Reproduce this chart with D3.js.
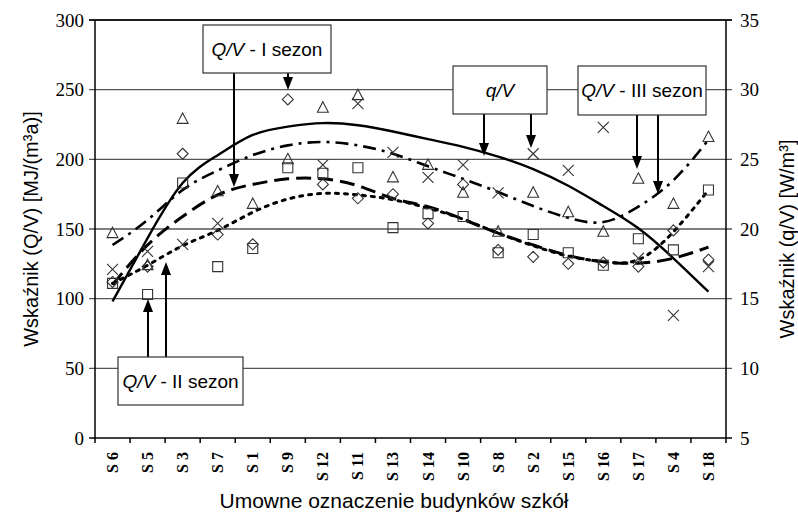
<!DOCTYPE html>
<html>
<head>
<meta charset="utf-8">
<script src="https://cdn.jsdelivr.net/npm/d3@7"></script>
<style>
  body { margin: 0; background: #fff; }
  svg { display: block; }
</style>
</head>
<body>
<div id="wrapper"></div>
<script>
// school buildings (x categories)
const categories = ["S 6", "S 5", "S 3", "S 7", "S 1", "S 9", "S 12", "S 11", "S 13",
  "S 14", "S 10", "S 8", "S 2", "S 15", "S 16", "S 17", "S 4", "S 18"]
// Q/V [MJ/(m3a)] per season, left axis
const seasonI = [112, 123, 204, 146, 139, 243, 182, 172, 175, 154, 182, 135, 130, 125, 126, 123, 149, 128]
const seasonII = [111, 103, 183, 123, 136, 194, 190, 194, 151, 161, 159, 133, 146, 133, 124, 143, 135, 178]
const seasonIII = [147, 124, 229, 177, 168, 200, 237, 246, 187, 196, 176, 148, 176, 162, 148, 186, 168, 216]
// q/V [W/m3], right axis
const qV = [17.1, 18.4, 18.9, 20.4, null, null, 24.6, 29.0, 25.5, 23.7, 24.6, 22.6, 25.4, 24.2, 27.3, 17.9, 13.8, 17.3]
// trend lines
const trendI = [110, 138.5, 159, 174.5, 182, 186, 186, 181, 172, 166, 157, 147, 138.5, 131, 126.5, 125.5, 129, 137]
const trendII = [111, 124, 138, 149, 162, 171.5, 175.5, 174.5, 171, 165, 157, 147, 138, 130.5, 126.5, 128, 148, 178]
const trendIII = [138.5, 156.5, 178, 192, 203, 210, 212.5, 210, 204, 195, 186, 176.5, 166.5, 158, 155, 166, 185, 214]
const trendQ = [14.8, 19.35, 23.3, 25.3, 26.75, 27.35, 27.6, 27.45, 27.0, 26.45, 25.9, 25.2, 24.3, 23.1, 21.65, 20.05, 17.9, 15.5]
const leftTicks = [0, 50, 100, 150, 200, 250, 300]
const rightTicks = [5, 10, 15, 20, 25, 30, 35]

const width = 798
let dimensions = {
  width: width,
  height: 515,
  margin: { top: 20, right: 72, bottom: 77, left: 95 },
}
dimensions.boundedWidth = dimensions.width - dimensions.margin.left - dimensions.margin.right
dimensions.boundedHeight = dimensions.height - dimensions.margin.top - dimensions.margin.bottom

const wrapper = d3.select("#wrapper").append("svg")
  .attr("width", dimensions.width).attr("height", dimensions.height)
const bounds = wrapper.append("g")
  .attr("transform", `translate(${dimensions.margin.left},${dimensions.margin.top})`)

const xScaler = d3.scaleBand().domain(categories).range([0, dimensions.boundedWidth])
const yLeft = d3.scaleLinear().domain([0, 300]).range([dimensions.boundedHeight, 0])
const yRight = d3.scaleLinear().domain([5, 35]).range([dimensions.boundedHeight, 0])
const cx = (d, i) => xScaler(categories[i]) + xScaler.bandwidth() / 2

// gridlines (also make the ticks on both sides)
bounds.append("g").selectAll("line").data(leftTicks.slice(1)).enter().append("line")
  .attr("x1", -6).attr("x2", dimensions.boundedWidth + 6)
  .attr("y1", d => yLeft(d)).attr("y2", d => yLeft(d))
  .attr("stroke", "#555").attr("stroke-width", 1.4)

// trend lines
const lineLeft = d3.line().x(cx).y(d => yLeft(d)).curve(d3.curveNatural)
const lineRight = d3.line().x(cx).y(d => yRight(d)).curve(d3.curveNatural)
const trends = [
  { values: trendQ, gen: lineRight, dash: null, w: 2.4 },
  { values: trendIII, gen: lineLeft, dash: "13,6,3,6", w: 2.6 },
  { values: trendI, gen: lineLeft, dash: "15,7", w: 3 },
  { values: trendII, gen: lineLeft, dash: "3,6", w: 3 },
]
bounds.append("g").selectAll("path").data(trends).enter().append("path")
  .attr("d", d => d.gen(d.values))
  .attr("fill", "none").attr("stroke", "#000")
  .attr("stroke-width", d => d.w)
  .attr("stroke-dasharray", d => d.dash)
  .attr("stroke-linecap", d => d.dash === "3,6" ? "round" : "butt")

// marker shapes
const diamond = { draw(ctx, size) { const r = Math.sqrt(size); ctx.moveTo(0, -r); ctx.lineTo(r, 0); ctx.lineTo(0, r); ctx.lineTo(-r, 0); ctx.closePath() } }
const square = { draw(ctx, size) { const r = Math.sqrt(size); ctx.rect(-r, -r, 2 * r, 2 * r) } }
const triangle = { draw(ctx, size) { const r = Math.sqrt(size); ctx.moveTo(0, -r * 1.15); ctx.lineTo(r * 1.05, r * 0.85); ctx.lineTo(-r * 1.05, r * 0.85); ctx.closePath() } }
const cross = { draw(ctx, size) { const r = Math.sqrt(size); ctx.moveTo(-r, -r); ctx.lineTo(r, r); ctx.moveTo(r, -r); ctx.lineTo(-r, r) } }

const markerSets = [
  { values: seasonI, y: yLeft, type: diamond, r: 5.5 },
  { values: seasonII, y: yLeft, type: square, r: 5 },
  { values: seasonIII, y: yLeft, type: triangle, r: 5.2 },
  { values: qV, y: yRight, type: cross, r: 5.5 },
]
markerSets.forEach(set => {
  bounds.append("g").selectAll("path")
    .data(set.values.map((v, i) => ({ v, i })).filter(d => d.v != null))
    .enter().append("path")
    .attr("transform", d => `translate(${cx(null, d.i)},${set.y(d.v)})`)
    .attr("d", d3.symbol().type(set.type).size(set.r * set.r))
    .attr("fill", "none").attr("stroke", "#333").attr("stroke-width", 1.1)
})

// frame and axes
const axisG = bounds.append("g").attr("stroke", "#000").attr("stroke-width", 1.5)
axisG.append("line").attr("x1", -6).attr("x2", dimensions.boundedWidth + 6).attr("y1", 0).attr("y2", 0)
axisG.append("line").attr("x1", 0).attr("x2", 0).attr("y1", 0).attr("y2", dimensions.boundedHeight)
axisG.append("line").attr("x1", dimensions.boundedWidth).attr("x2", dimensions.boundedWidth).attr("y1", 0).attr("y2", dimensions.boundedHeight)
axisG.append("line").attr("x1", -6).attr("x2", dimensions.boundedWidth + 6)
  .attr("y1", dimensions.boundedHeight).attr("y2", dimensions.boundedHeight)
axisG.selectAll(".xt").data(d3.range(categories.length + 1)).enter().append("line")
  .attr("x1", i => i * xScaler.step()).attr("x2", i => i * xScaler.step())
  .attr("y1", dimensions.boundedHeight).attr("y2", dimensions.boundedHeight + 5)

const serif = "'Liberation Serif', 'Times New Roman', serif"
const sans = "'Liberation Sans', Arial, sans-serif"
bounds.append("g").selectAll("text").data(leftTicks).enter().append("text")
  .attr("x", -11).attr("y", d => yLeft(d)).attr("dy", "0.35em")
  .attr("text-anchor", "end").attr("font-family", serif).attr("font-size", 19)
  .text(d => d)
bounds.append("g").selectAll("text").data(rightTicks).enter().append("text")
  .attr("x", dimensions.boundedWidth + 14).attr("y", d => yRight(d)).attr("dy", "0.35em")
  .attr("font-family", serif).attr("font-size", 19)
  .text(d => d)
bounds.append("g").selectAll("text").data(categories).enter().append("text")
  .attr("transform", (d, i) => `translate(${cx(d, i) + 5.5},${dimensions.boundedHeight + 14}) rotate(-90)`)
  .attr("text-anchor", "end").attr("font-family", serif).attr("font-size", 16).attr("font-weight", "bold")
  .text(d => d)

// axis titles
wrapper.append("text")
  .attr("transform", `translate(38,${dimensions.margin.top + dimensions.boundedHeight / 2}) rotate(-90)`)
  .attr("text-anchor", "middle").attr("font-family", sans).attr("font-size", 20)
  .text("Wskaźnik (Q/V) [MJ/(m³a)]")
wrapper.append("text")
  .attr("transform", `translate(794,239) rotate(-90)`)
  .attr("text-anchor", "middle").attr("font-family", sans).attr("font-size", 20)
  .text("Wskaźnik (q/V) [W/m³]")
wrapper.append("text")
  .attr("x", 394).attr("y", 508)
  .attr("text-anchor", "middle").attr("font-family", sans).attr("font-size", 21)
  .text("Umowne oznaczenie budynków szkół")

// annotation boxes with arrows
const notes = [
  { italic: "Q/V", rest: " - I sezon", box: [203, 25, 128, 48], arrows: [[234, 73, 187], [288, 73, 90]] },
  { italic: "q/V", rest: "", box: [453, 66, 94, 48], arrows: [[484, 114, 156], [531, 114, 148]] },
  { italic: "Q/V", rest: " - III sezon", box: [578, 66, 128, 49], arrows: [[637, 115, 169], [658, 115, 194]] },
  { italic: "Q/V", rest: " - II sezon", box: [118, 357, 125, 48], arrows: [[148, 357, 299], [166, 357, 262]] },
]
const notesG = wrapper.append("g")
notes.forEach(n => {
  const [bx, by, bw, bh] = n.box
  n.arrows.forEach(([ax, y0, tip]) => {
    const dir = tip > y0 ? 1 : -1
    notesG.append("line").attr("x1", ax).attr("x2", ax).attr("y1", y0).attr("y2", tip - dir * 10)
      .attr("stroke", "#000").attr("stroke-width", 2)
    notesG.append("path")
      .attr("d", `M${ax - 5},${tip - dir * 13}L${ax + 5},${tip - dir * 13}L${ax},${tip}Z`)
      .attr("fill", "#000")
  })
  notesG.append("rect").attr("x", bx).attr("y", by).attr("width", bw).attr("height", bh)
    .attr("fill", "#fff").attr("stroke", "#333").attr("stroke-width", 1.2)
  const t = notesG.append("text").attr("x", bx + bw / 2).attr("y", by + bh / 2).attr("dy", "0.36em")
    .attr("text-anchor", "middle").attr("font-family", sans).attr("font-size", 19)
  t.append("tspan").attr("font-style", "italic").text(n.italic)
  t.append("tspan").text(n.rest)
})
</script>
</body>
</html>
